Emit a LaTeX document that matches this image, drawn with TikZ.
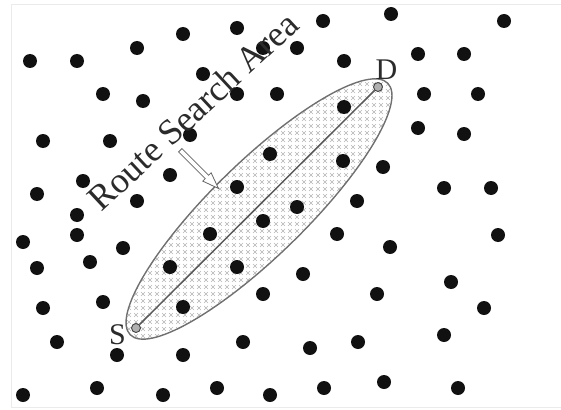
\documentclass[tikz,border=0pt]{standalone}
\usepackage{fontspec}
\setmainfont{Liberation Serif}
\usepackage{xcolor}
\usetikzlibrary{positioning,patterns,shapes.arrows}
\definecolor{rsaInk}{HTML}{111111}
\definecolor{rsaEdge}{HTML}{707070}
\definecolor{rsaHatch}{HTML}{B4B4B4}
\definecolor{rsaText}{HTML}{2B2B2B}
\definecolor{rsaFrame}{HTML}{EBEBEB}
\pgfdeclarepatternformonly{rsamarks}{\pgfpoint{-1pt}{-1pt}}{\pgfpoint{8pt}{8pt}}{\pgfpoint{7pt}{7pt}}{
    \pgfsetlinewidth{0.5pt}
    \pgfpathmoveto{\pgfpoint{1pt}{1pt}}\pgfpathlineto{\pgfpoint{5pt}{5pt}}
    \pgfpathmoveto{\pgfpoint{1pt}{5pt}}\pgfpathlineto{\pgfpoint{5pt}{1pt}}
    \pgfusepath{stroke}}
\tikzset{
    dot/.style={fill=rsaInk},
    endpt/.style={circle, draw=rsaEdge!60!black, line width=0.9pt, fill=rsaEdge!55, inner sep=0pt, minimum size=9pt},
    area/.style={draw=rsaEdge, line width=1.4pt, pattern=rsamarks, pattern color=rsaHatch},
    route/.style={draw=rsaEdge!80!black, line width=1.5pt},
    pointer/.style={single arrow, draw=rsaEdge!90!black, line width=0.8pt, fill=white, inner sep=2pt, minimum height=54pt, single arrow head extend=3.5pt, single arrow tip angle=40},
    lbl/.style={font=\fontsize{30}{32}\selectfont, text=rsaText, inner sep=1pt},
    areatext/.style={font=\fontsize{36}{38}\selectfont, text=rsaText, inner sep=0pt},
    frame/.style={draw=rsaFrame, line width=1pt}
}
\begin{document}
\begin{tikzpicture}[x=1pt, y=-1pt]
\useasboundingbox (0,0) rectangle (561,409);
\draw[frame] (561,5) -- (11,5) -- (11,407) -- (561,407);
% search area round the route
\draw[area] (259,209) ellipse [x radius=180, y radius=47, rotate=44.3];
% sensor field
\foreach \x/\y in {30/61, 77/61, 137/48, 183/34, 237/28, 263/48, 297/48, 323/21, 391/14, 504/21,
    344/61, 418/54, 464/54, 203/74, 103/94, 143/101, 237/94, 277/94, 424/94, 478/94,
    344/107, 418/128, 464/134, 43/141, 110/141, 190/135, 270/154, 343/161, 383/167, 170/175,
    83/181, 37/194, 137/201, 237/187, 444/188, 491/188, 297/207, 263/221, 357/201, 77/215,
    77/235, 23/242, 123/248, 210/234, 337/234, 390/247, 498/235, 90/262, 37/268, 170/267,
    237/267, 303/274, 451/282, 263/294, 377/294, 103/302, 43/308, 183/307, 484/308, 57/342,
    243/342, 358/342, 310/348, 444/335, 117/355, 183/355, 23/395, 97/388, 163/395, 217/388,
    270/395, 324/388, 384/382, 458/388}
    \fill[dot] (\x,\y) circle (7);
% source and destination
\node[endpt] (S) at (136,328) {};
\node[endpt] (D) at (378,87) {};
\draw[route] (S) -- (D);
\node[lbl, left=0pt of S, yshift=-7pt, xshift=-4pt] (Slbl) {S};
\node[lbl, above right=3pt and -7pt of D] (Dlbl) {D};
% caption of the area
\node[areatext, rotate=43] (title) at (193,111) {Route Search Area};
\node[pointer, rotate=-45] (hint) at (197,167) {};
\end{tikzpicture}
\end{document}
